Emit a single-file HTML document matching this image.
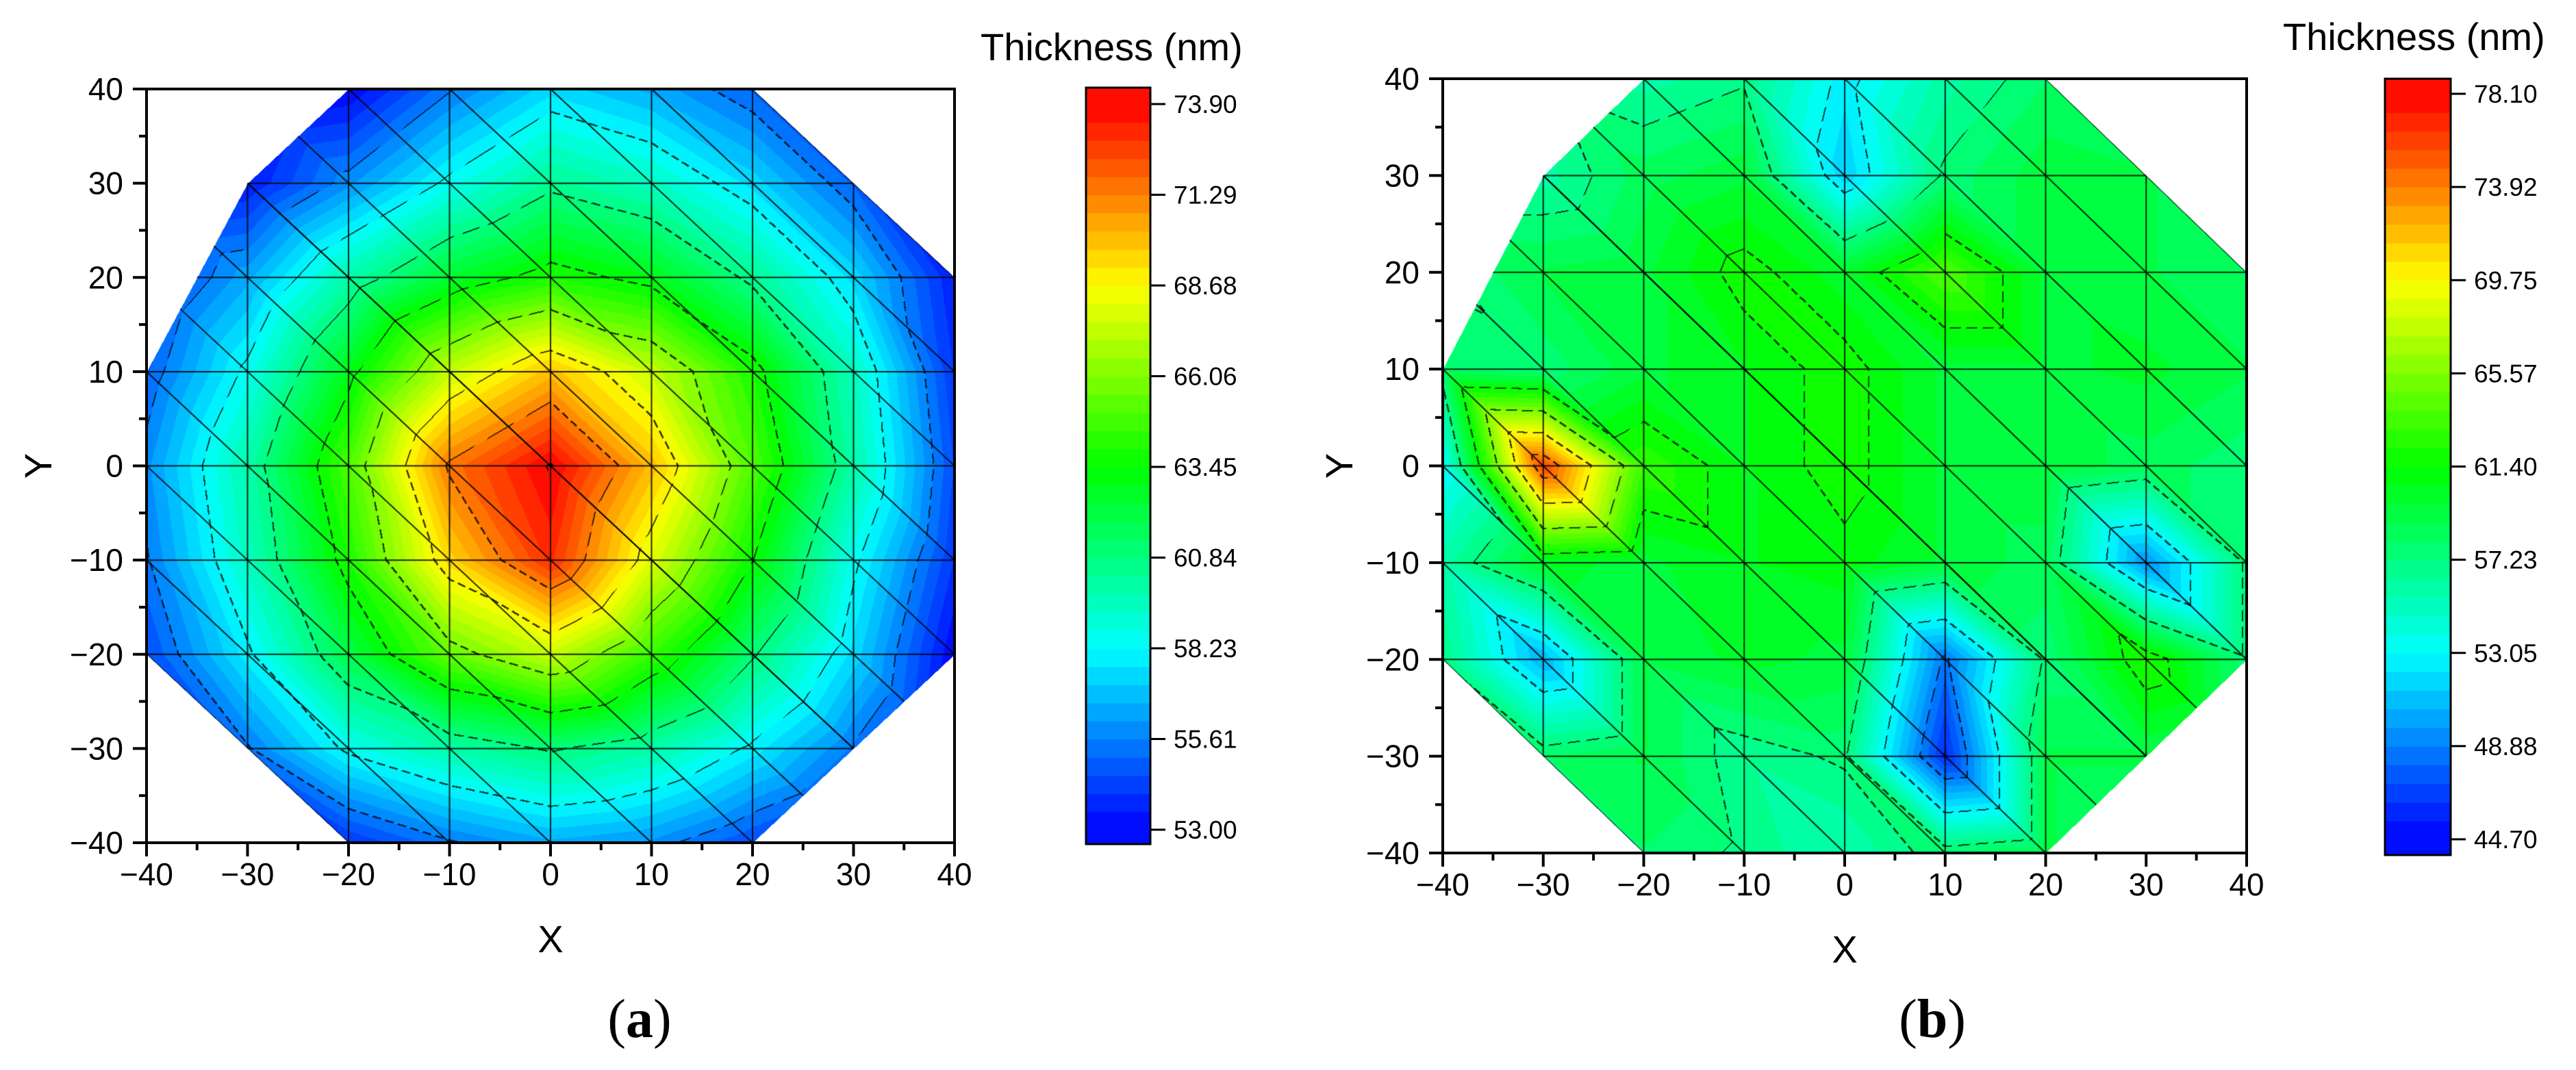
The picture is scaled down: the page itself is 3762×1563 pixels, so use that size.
<!DOCTYPE html>
<html><head><meta charset="utf-8">
<style>
html,body{margin:0;padding:0;background:#fff;}
#root{position:relative;width:3762px;height:1563px;overflow:hidden;background:#fff;font-family:"Liberation Sans",sans-serif;}
canvas{position:absolute;}
svg{position:absolute;left:0;top:0;}
</style></head>
<body>
<div id="root">
<canvas id="cA"></canvas>
<canvas id="cB"></canvas>
<svg id="ov" width="3762" height="1563"></svg>
</div>
<script>
// grid values: rows y=40..-40, cols x=-40..40
const gridA = [
[52,52.5,53,55.5,57.5,56.5,55,53,52],
[53,53.5,56,58.5,60.5,59.5,57.5,55,53],
[54,56.5,60,62.5,64,63,60.5,57.5,53.5],
[55,58.5,63,67.5,70,67.5,64,59.5,54],
[56,60,65,71.5,74,70,65,60,54.5],
[55.5,59.5,64,69.5,73,68,63.5,58.5,54],
[54.5,58,62,65.5,67.5,64.5,61,57.5,53],
[53,55.5,58.5,60,61,60,58,55.5,52.5],
[52,53,54,55.5,56.5,56,54.5,53,52]];
const gridB = [
[57,57,56,57,52.5,56,58,58,57],
[56,56,58.5,59.5,51.5,57.5,59.5,59,58],
[57,59,59.5,62,60,64,59.5,59,58],
[58,57.5,59.5,60.5,62,59.5,59.5,60,59],
[53,76,63,60.5,62,59.5,59.5,58.5,57.5],
[56,60,59.5,60.5,61,59.5,58.5,49.5,57.5],
[57,50.5,59,60,59.5,48.5,57.5,62.5,57.5],
[58,58,59,56.5,57.5,46,59,59,58],
[58,58,58,57,55.5,58,59,58,58]];
const axisTicks = [-40,-30,-20,-10,0,10,20,30,40];
const cbarLabelsA = ["73.90","71.29","68.68","66.06","63.45","60.84","58.23","55.61","53.00"];
const cbarLabelsB = ["78.10","73.92","69.75","65.57","61.40","57.23","53.05","48.88","44.70"];
const rangeA = [53.0, 73.9];
const rangeB = [44.7, 78.1];
const octagon = [[-20,40],[20,40],[40,20],[40,-20],[20,-40],[-20,-40],[-40,-20],[-40,10],[-30,30]];

const NS="http://www.w3.org/2000/svg";
const ov=document.getElementById('ov');
function el(tag,attrs,parent){const e=document.createElementNS(NS,tag);for(const k in attrs)e.setAttribute(k,attrs[k]);(parent||ov).appendChild(e);return e;}
function txt(s,attrs){const t=el('text',attrs);t.textContent=s;return t;}

function cmap(t){
  t=Math.max(0,Math.min(1,t));
  const stops=[[0,0,0,255],[0.25,0,255,255],[0.5,0,255,0],[0.75,255,255,0],[1,255,0,0]];
  for(let i=0;i<4;i++){const a=stops[i],b=stops[i+1];if(t<=b[0]){const f=(t-a[0])/(b[0]-a[0]);return [a[1]+(b[1]-a[1])*f,a[2]+(b[2]-a[2])*f,a[3]+(b[3]-a[3])*f];}}
  return [255,0,0];
}
function inPoly(x,y,p){let c=false;for(let i=0,j=p.length-1;i<p.length;j=i++){const [xi,yi]=p[i],[xj,yj]=p[j];if(((yi>y)!=(yj>y))&&(x<(xj-xi)*(y-yi)/(yj-yi)+xi))c=!c;}return c;}
function interp(g,x,y){
  let ci=Math.min(7,Math.max(0,Math.floor((x+40)/10)));
  let rj=Math.min(7,Math.max(0,Math.floor((y+40)/10)));
  const u=(x+40)/10-ci, v=(y+40)/10-rj;
  const row=(j)=>g[8-j];
  const BL=row(rj)[ci],BR=row(rj)[ci+1],TL=row(rj+1)[ci],TR=row(rj+1)[ci+1];
  if(u+v<=1) return BL+u*(BR-BL)+v*(TL-BL);
  return TR+(1-u)*(TL-TR)+(1-v)*(BR-TR);
}

function panel(cfg){
  const {cid,grid,L,R,T,B,range,cb,labels,title,titleX,titleY,ylabX,tag,tagX,name}=cfg;
  const sx=v=>L+(v+40)/80*(R-L), sy=v=>B-(v+40)/80*(B-T);
  const W=R-L,H=B-T;
  const cv=document.getElementById(cid);
  cv.width=W;cv.height=H;cv.style.left=L+'px';cv.style.top=T+'px';
  const ctx=cv.getContext('2d');const img=ctx.createImageData(W,H);
  const NL=40, step=(range[1]-range[0])/NL;
  const lev=new Int16Array(W*H).fill(-999);
  for(let py=0;py<H;py++){for(let px=0;px<W;px++){
    const x=-40+px/W*80, y=40-py/H*80;
    if(!inPoly(x,y,octagon))continue;
    const v=interp(grid,x,y);
    let l=Math.floor((v-range[0])/step);l=Math.max(-1,Math.min(NL,l));
    lev[py*W+px]=l;
    const c=cmap((Math.max(0,Math.min(NL-1,l))+0.5)/NL);
    const k=(py*W+px)*4;img.data[k]=c[0];img.data[k+1]=c[1];img.data[k+2]=c[2];img.data[k+3]=255;
  }}
  for(let py=0;py<H-2;py++){for(let px=0;px<W-2;px++){
    const a=lev[py*W+px];if(a===-999)continue;
    const b=lev[py*W+px+2],c=lev[(py+2)*W+px];
    const ga=Math.floor(a/5);
    if((b!==-999&&Math.floor(b/5)!==ga)||(c!==-999&&Math.floor(c/5)!==ga)){
      if(((px+py)>>3)%3===2)continue;
      const k=(py*W+px)*4;img.data[k]*=0.25;img.data[k+1]*=0.25;img.data[k+2]*=0.25;
    }
  }}
  ctx.putImageData(img,0,0);
  ctx.strokeStyle='rgba(0,0,0,0.85)';ctx.lineWidth=2;
  ctx.save();ctx.beginPath();octagon.forEach((p,i)=>{const X=sx(p[0])-L,Y=sy(p[1])-T;i?ctx.lineTo(X,Y):ctx.moveTo(X,Y);});ctx.closePath();ctx.clip();
  for(const t of axisTicks){
    ctx.beginPath();ctx.moveTo(sx(t)-L,0);ctx.lineTo(sx(t)-L,H);ctx.stroke();
    ctx.beginPath();ctx.moveTo(0,sy(t)-T);ctx.lineTo(W,sy(t)-T);ctx.stroke();
    ctx.beginPath();ctx.moveTo(sx(t)-L,0);ctx.lineTo(sx(t+80)-L,H);ctx.stroke();
    ctx.beginPath();ctx.moveTo(sx(t-80)-L,0);ctx.lineTo(sx(t)-L,H);ctx.stroke();
  }
  ctx.restore();
  const g=el('g',{});
  el('rect',{x:L,y:T,width:W,height:H,fill:'none',stroke:'#000','stroke-width':4},g);
  for(let t=-40;t<=40;t+=5){
    const maj=t%10===0;const len=maj?20:11;
    el('line',{x1:sx(t),y1:B,x2:sx(t),y2:B+len,stroke:'#000','stroke-width':4},g);
    el('line',{x1:L,y1:sy(t),x2:L-len,y2:sy(t),stroke:'#000','stroke-width':4},g);
  }
  for(const t of axisTicks){
    const a=txt(String(t).replace('-','\u2212'),{x:sx(t),y:B+62,'font-size':46,'text-anchor':'middle',fill:'#000'});
    
    const b=txt(String(t).replace('-','\u2212'),{x:L-34,y:sy(t)+16,'font-size':46,'text-anchor':'end',fill:'#000'});
    
  }
  const xt=txt('X',{x:(L+R)/2,y:B+160,'font-size':56,'text-anchor':'middle'});
  const yt=txt('Y',{x:ylabX,y:(T+B)/2,'font-size':56,'text-anchor':'middle',transform:`rotate(-90 ${ylabX} ${(T+B)/2})`,dy:20});
  const [cx0,cx1,cy0,cy1,lt,lb]=cb;
  const vTop=range[1]+(lt-cy0)/(lb-lt)*(range[1]-range[0]);
  const vBot=range[0]-(cy1-lb)/(lb-lt)*(range[1]-range[0]);
  const vy=v=>cy0+(vTop-v)/(vTop-vBot)*(cy1-cy0);
  for(let l=-1;l<=NL;l++){
    let v0=range[0]+l*step,v1=v0+step;
    v0=Math.max(v0,vBot);v1=Math.min(v1,vTop);if(v1<=v0)continue;
    const c=cmap((Math.max(0,Math.min(NL-1,l))+0.5)/NL);
    const r=el('rect',{x:cx0,y:vy(v1),width:cx1-cx0,height:vy(v0)-vy(v1)+0.8,fill:`rgb(${c.map(Math.round).join(',')})`});
    
  }
  el('rect',{x:cx0,y:cy0,width:cx1-cx0,height:cy1-cy0,fill:'none',stroke:'#000','stroke-width':3});
  labels.forEach((s,i)=>{
    const y=lt+i*(lb-lt)/(labels.length-1);
    el('line',{x1:cx1,y1:y,x2:cx1+22,y2:y,stroke:'#000','stroke-width':3});
    const t=txt(s,{x:cx1+34,y:y+13,'font-size':37});
  });
  const tt=txt(title,{x:titleX,y:titleY,'font-size':56});
  const tg=txt(tag[0],{x:tagX,y:1515,'font-size':80,'font-family':'"Liberation Serif",serif','text-anchor':'middle'});
  
  const bs=el('tspan',{'font-weight':'bold'},tg);bs.textContent=tag[1];
  const cl=el('tspan',{},tg);cl.textContent=')';
}

panel({cid:'cA',grid:gridA,L:214,R:1394,T:130,B:1231,range:rangeA,
  cb:[1586,1680,128,1233,152,1212],labels:cbarLabelsA,title:'Thickness (nm)',titleX:1432,titleY:88,ylabX:55,tag:['(','a'],tagX:934,name:'panel-a'});
panel({cid:'cB',grid:gridB,L:2107,R:3281,T:115,B:1246,range:rangeB,
  cb:[3483,3579,115,1249,137,1226],labels:cbarLabelsB,title:'Thickness (nm)',titleX:3334,titleY:73,ylabX:1955,tag:['(','b'],tagX:2822,name:'panel-b'});
</script>
</body></html>
